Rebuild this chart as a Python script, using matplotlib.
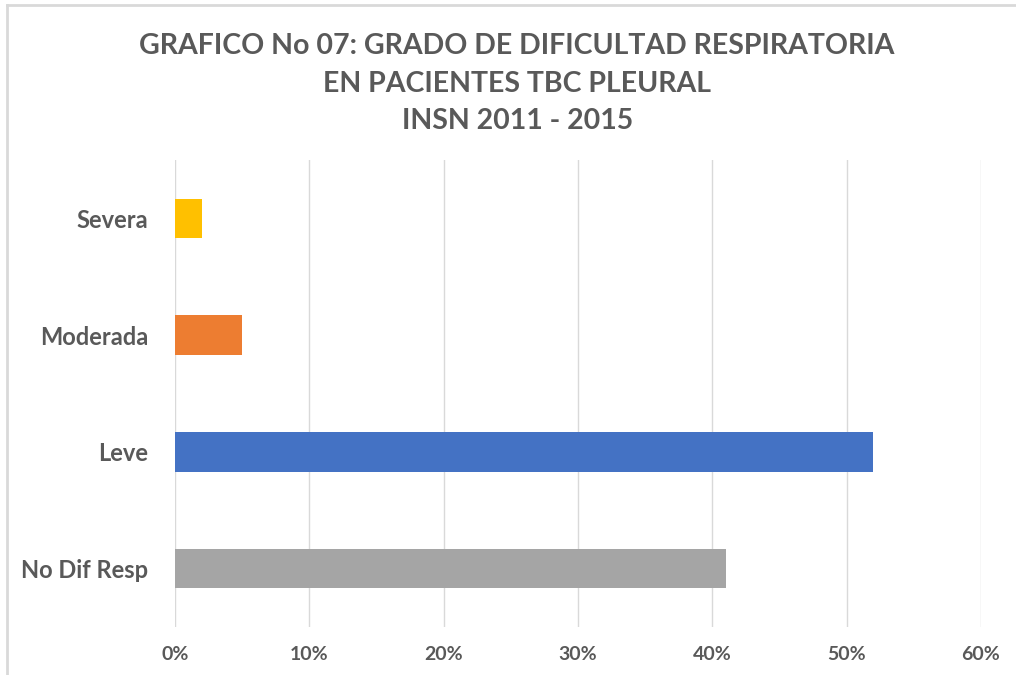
import matplotlib.pyplot as plt
from matplotlib.lines import Line2D
from matplotlib.ticker import FuncFormatter

categories = ["No Dif Resp", "Leve", "Moderada", "Severa"]
values = [41, 52, 5, 2]
colors = ["#a5a5a5", "#4472c4", "#ed7d31", "#ffc000"]
xticks = [0, 10, 20, 30, 40, 50, 60]

title = ("GRAFICO No 07: GRADO DE DIFICULTAD RESPIRATORIA\n"
         "EN PACIENTES TBC PLEURAL\n"
         "INSN 2011 - 2015")

plt.rcParams["font.family"] = ["Lato", "DejaVu Sans"]
text_color = "#595959"

fig = plt.figure(figsize=(10.16, 6.75), dpi=100)
ax = fig.add_axes([0.1722, 0.0711, 0.7933, 0.6919])

ax.barh(range(len(categories)), values, height=0.34, color=colors, zorder=3)
ax.set_yticks(range(len(categories)))
ax.set_yticklabels(categories)
ax.set_ylim(-0.5, 3.5)
ax.set_xlim(0, 60)
ax.set_xticks(xticks)
ax.xaxis.set_major_formatter(FuncFormatter(lambda v, p: f"{v:.0f}%"))
ax.grid(axis="x", color="#d9d9d9", linewidth=1, zorder=0)
for s in ax.spines.values():
    s.set_visible(False)
ax.tick_params(length=0, colors=text_color)
ax.tick_params(axis="x", labelsize=14, pad=14)
ax.tick_params(axis="y", labelsize=17, pad=19)
for lbl in ax.get_xticklabels() + ax.get_yticklabels():
    lbl.set_fontweight("bold")

fig.text(0.509, 0.951, title, ha="center", va="top", fontsize=20.5,
         fontweight="bold", color=text_color, linespacing=1.55)

# outer chart frame (only left and top edges visible in the crop)
fig.add_artist(Line2D([0.007, 0.007], [0.0, 0.993], color="#d9d9d9", lw=2,
                      transform=fig.transFigure))
fig.add_artist(Line2D([0.007, 1.0], [0.993, 0.993], color="#d9d9d9", lw=2,
                      transform=fig.transFigure))

fig.savefig("out.png", dpi=100)
